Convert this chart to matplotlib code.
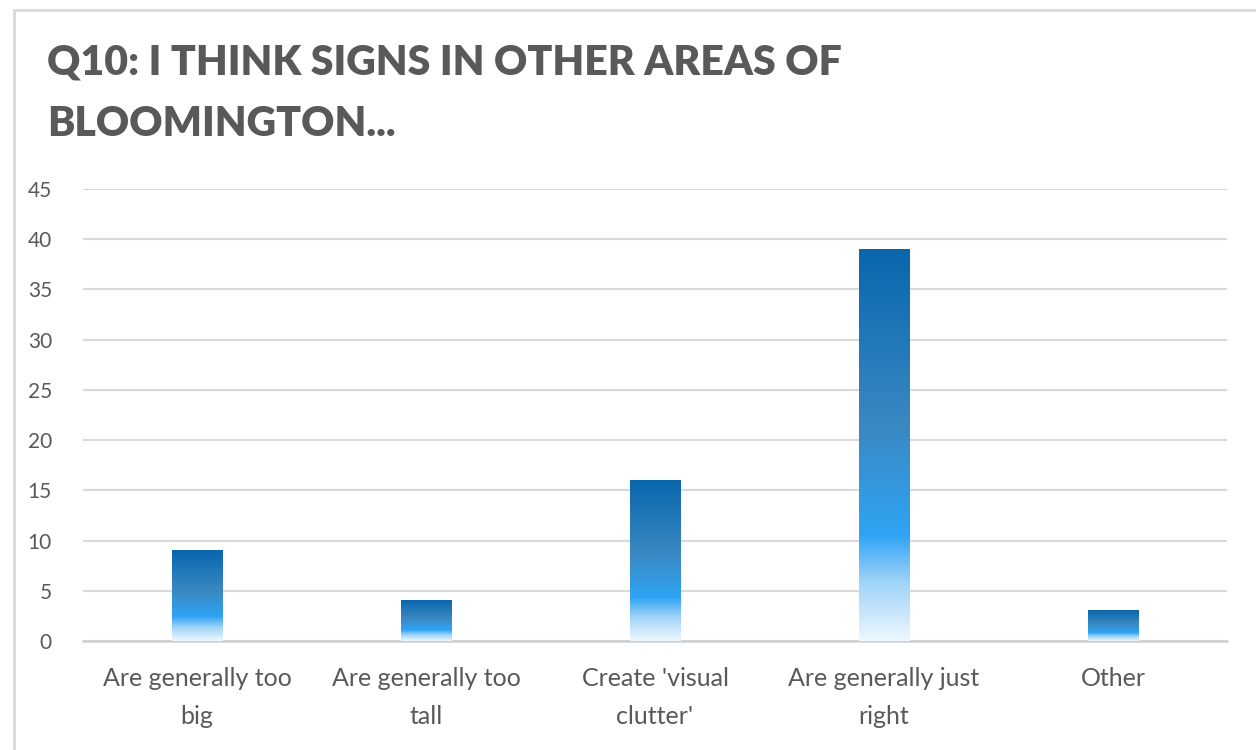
import matplotlib.pyplot as plt
import numpy as np
from matplotlib.colors import LinearSegmentedColormap
from matplotlib.patches import Rectangle

categories = ['Are generally too\nbig', 'Are generally too\ntall', "Create 'visual\nclutter'",
              'Are generally just\nright', 'Other']
values = [9, 4, 16, 39, 3]
yticks = [0, 5, 10, 15, 20, 25, 30, 35, 40, 45]

grey = '#595959'
# gradient from bottom (0) to top (1)
cmap = LinearSegmentedColormap.from_list('bars', [
    (0.0, '#eef7fe'), (0.15, '#9fd3f8'), (0.27, '#2fa4f4'),
    (0.55, '#3a88c2'), (1.0, '#0966ad')])

fig = plt.figure(figsize=(12.56, 7.5), dpi=100)
# frame of the original chart box (cropped on the right and bottom)
fig.patches.append(Rectangle((14 / 1256, -0.1), 1.1, 1.1 - 10 / 750,
                             transform=fig.transFigure, fill=False,
                             edgecolor='#d9d9d9', linewidth=2))

ax = fig.add_axes([0.0657, 0.1453, 0.9116, 0.6027])

x = np.arange(len(categories))
w = 0.22
grad = np.linspace(0, 1, 256).reshape(-1, 1)
bars = ax.bar(x, values, width=w, color='none', zorder=3)
for b in bars:
    x0, y0 = b.get_x(), b.get_y()
    h = b.get_height()
    ax.imshow(grad, cmap=cmap, origin='lower', aspect='auto',
              extent=[x0, x0 + b.get_width(), y0, y0 + h], zorder=3)
ax.set_xlim(-0.5, len(categories) - 0.5)
ax.set_ylim(0, 45)

ax.set_yticks(yticks)
ax.yaxis.grid(True, color='#d9d9d9', linewidth=1.5, zorder=0)
ax.set_axisbelow(True)
for s in ['top', 'right', 'left']:
    ax.spines[s].set_visible(False)
ax.spines['bottom'].set_color('#d0d0d0')
ax.spines['bottom'].set_linewidth(1.8)
ax.tick_params(axis='y', length=0, pad=22, labelsize=15, labelcolor=grey)
ax.tick_params(axis='x', length=0, pad=19, labelsize=18, labelcolor=grey)
ax.set_xticks(x)
ax.set_xticklabels(categories, family='Lato', linespacing=1.75)
for t in ax.get_yticklabels():
    t.set_family('Lato')

fig.text(47 / 1256, 1 - 62 / 750, 'Q10: I THINK SIGNS IN OTHER AREAS OF',
         family='Lato', weight='heavy', fontsize=29.5, color=grey, va='center')
fig.text(47 / 1256, 1 - 124 / 750, 'BLOOMINGTON...',
         family='Lato', weight='heavy', fontsize=29.5, color=grey, va='center')

fig.savefig('out.png', dpi=100)
